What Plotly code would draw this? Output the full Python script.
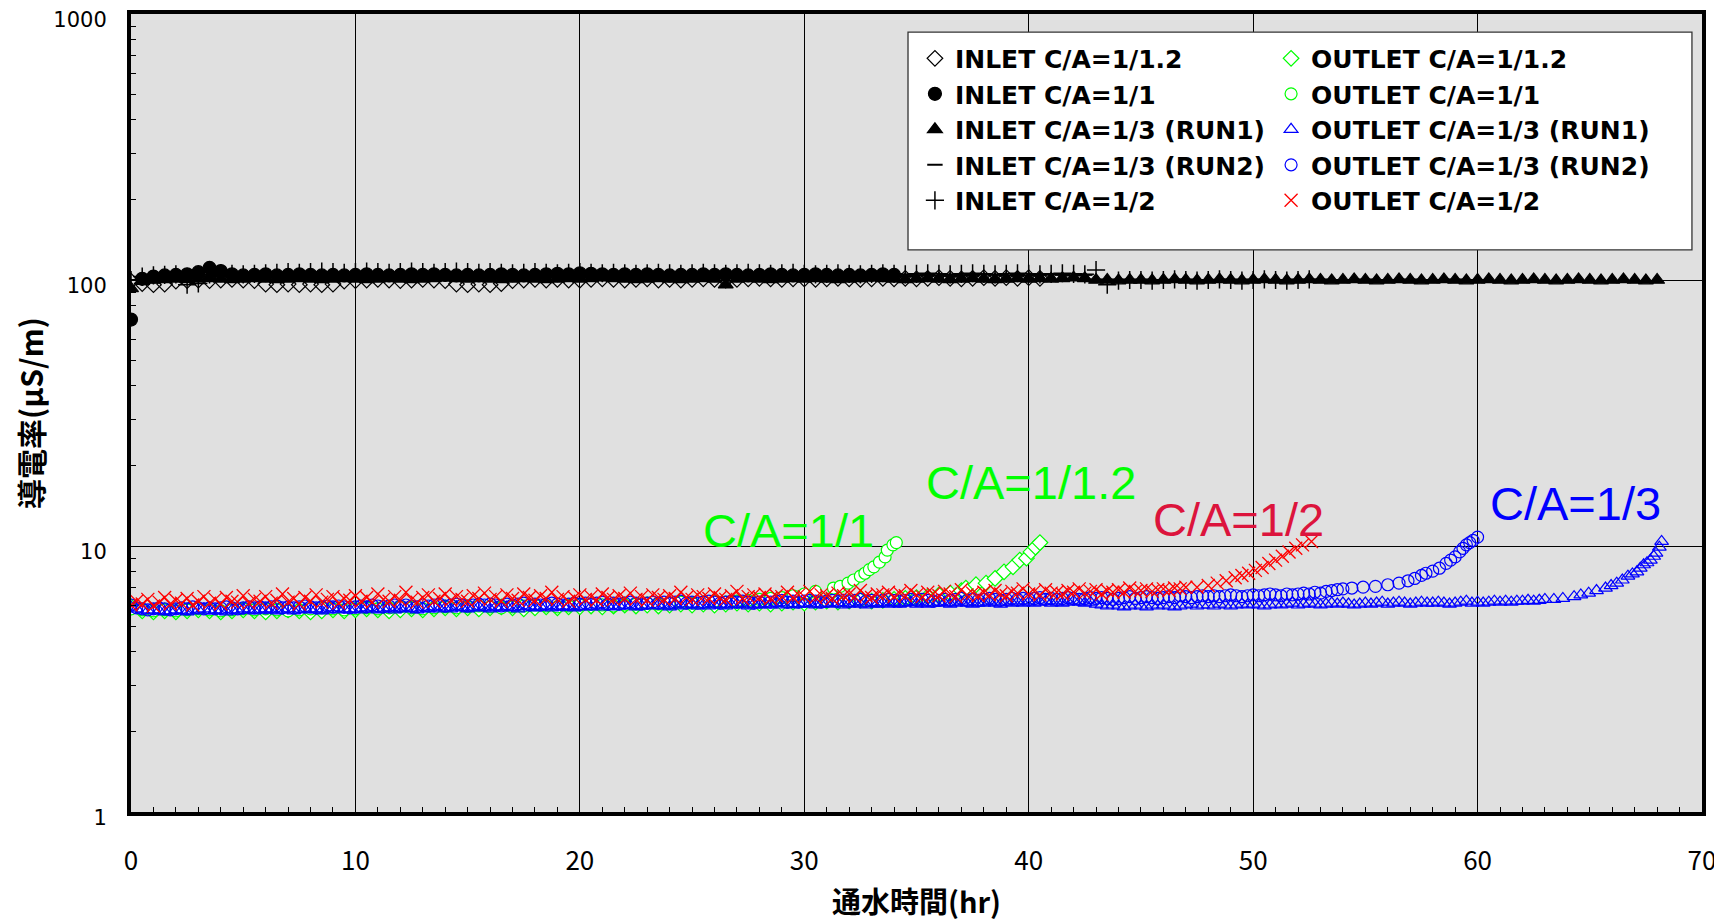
import math
import plotly.graph_objects as go

# ---------------- data ----------------
# sampling times, quarter-hour grid (hr)
HOURS = [0.0, 0.25, 0.5, 0.75, 1.0, 1.25, 1.5, 1.75,
         2.0, 2.25, 2.5, 2.75, 3.0, 3.25, 3.5, 3.75,
         4.0, 4.25, 4.5, 4.75, 5.0, 5.25, 5.5, 5.75,
         6.0, 6.25, 6.5, 6.75, 7.0, 7.25, 7.5, 7.75,
         8.0, 8.25, 8.5, 8.75, 9.0, 9.25, 9.5, 9.75,
         10.0, 10.25, 10.5, 10.75, 11.0, 11.25, 11.5, 11.75,
         12.0, 12.25, 12.5, 12.75, 13.0, 13.25, 13.5, 13.75,
         14.0, 14.25, 14.5, 14.75, 15.0, 15.25, 15.5, 15.75,
         16.0, 16.25, 16.5, 16.75, 17.0, 17.25, 17.5, 17.75,
         18.0, 18.25, 18.5, 18.75, 19.0, 19.25, 19.5, 19.75,
         20.0, 20.25, 20.5, 20.75, 21.0, 21.25, 21.5, 21.75,
         22.0, 22.25, 22.5, 22.75, 23.0, 23.25, 23.5, 23.75,
         24.0, 24.25, 24.5, 24.75, 25.0, 25.25, 25.5, 25.75,
         26.0, 26.25, 26.5, 26.75, 27.0, 27.25, 27.5, 27.75,
         28.0, 28.25, 28.5, 28.75, 29.0, 29.25, 29.5, 29.75,
         30.0, 30.25, 30.5, 30.75, 31.0, 31.25, 31.5, 31.75,
         32.0, 32.25, 32.5, 32.75, 33.0, 33.25, 33.5, 33.75,
         34.0, 34.25, 34.5, 34.75, 35.0, 35.25, 35.5, 35.75,
         36.0, 36.25, 36.5, 36.75, 37.0, 37.25, 37.5, 37.75,
         38.0, 38.25, 38.5, 38.75, 39.0, 39.25, 39.5, 39.75,
         40.0, 40.25, 40.5, 40.75, 41.0, 41.25, 41.5, 41.75,
         42.0, 42.25, 42.5, 42.75, 43.0, 43.25, 43.5, 43.75,
         44.0, 44.25, 44.5, 44.75, 45.0, 45.25, 45.5, 45.75,
         46.0, 46.25, 46.5, 46.75, 47.0, 47.25, 47.5, 47.75,
         48.0, 48.25, 48.5, 48.75, 49.0, 49.25, 49.5, 49.75,
         50.0, 50.25, 50.5, 50.75, 51.0, 51.25, 51.5, 51.75,
         52.0, 52.25, 52.5, 52.75, 53.0, 53.25, 53.5, 53.75,
         54.0, 54.25, 54.5, 54.75, 55.0, 55.25, 55.5, 55.75,
         56.0, 56.25, 56.5, 56.75, 57.0, 57.25, 57.5, 57.75,
         58.0, 58.25, 58.5, 58.75, 59.0, 59.25, 59.5, 59.75,
         60.0, 60.25, 60.5, 60.75, 61.0, 61.25, 61.5, 61.75,
         62.0, 62.25, 62.5, 62.75, 63.0, 63.25, 63.5, 63.75,
         64.0, 64.25, 64.5, 64.75, 65.0, 65.25, 65.5, 65.75,
         66.0, 66.25, 66.5, 66.75, 67.0, 67.25, 67.5, 67.75,
         68.0]
HALF_HOURS = HOURS[::2]

# INLET series (black), half-hour readings
inlet_12_y = [99, 97, 96, 96.5, 99, 99.5, 100, 99.5, 100, 100.5,
              100, 99.5, 96.5, 96, 96.5, 96, 96.5, 96, 96.5, 99,
              99.5, 100, 100.5, 100, 99.5, 100, 100.5, 100, 99.5, 96.5,
              96, 96.5, 96, 97, 99.5, 100, 100.5, 100, 100.5, 100,
              100, 100.5, 101, 100.5, 100, 100.5, 101, 100, 100.5, 100,
              100.5, 101, 100.5, 100, 100.5, 101, 101.5, 101, 100.5, 101,
              101, 100.5, 101, 101.5, 101, 100.5, 101, 101.5, 101, 101.5,
              101, 101.5, 102, 101.5, 101, 101.5, 102, 101.5, 102, 101.5,
              102, 101.5]
inlet_11_y = [71, 101, 103, 104, 104.5, 105, 107, 111, 108, 105,
              104, 104.5, 105, 104, 104.5, 105, 104.5, 104, 104.5, 104,
              104.5, 105, 104.5, 104, 104.5, 105, 104.5, 105, 104.5, 104,
              104.5, 104, 104.5, 105, 104.5, 104, 104.5, 105, 105.5, 105,
              106, 105.5, 105, 104.5, 105, 104.5, 105, 104.5, 104, 104.5,
              104.5, 105, 104.5, 105, 104.5, 104, 104.5, 105, 104.5, 104,
              104.5, 105, 104.5, 104, 104.5, 104, 104.5, 105, 104.5]
inlet_run1_y = [93, 99, 100, 100.5, 101, 100.5, 101, 101.5, 101, 100.5,
                101, 101.5, 101, 100.5, 101, 101.5, 101, 100.5, 101, 101.5,
                101, 100.5, 101, 101.5, 101, 100.5, 101, 101.5, 102, 101.5,
                101, 101.5, 101, 100.5, 101, 101.5, 101, 100.5, 101, 101.5,
                101, 101.5, 102, 101.5, 101, 100.5, 101, 101.5, 101, 100.5,
                101, 101.5, 101, 96, 101, 101.5, 101, 100.5, 101, 101.5,
                101, 101.5, 101, 100.5, 101, 101.5, 102, 101.5, 101, 100.5,
                101, 101.5, 101, 100.5, 101, 101.5, 101, 100.5, 101, 101.5,
                101, 101.5, 101, 101.5, 102, 101.5, 100, 100, 99.5, 100,
                100, 99.5, 100, 100.5, 100, 99.5, 100, 100.5, 100, 99.5,
                100, 100.5, 100, 99.5, 100, 100.5, 100, 99.5, 100, 100.5,
                100, 99.5, 100, 100.5, 100, 99.5, 100, 100.5, 100, 99.5,
                100, 100.5, 100, 99.5, 100, 100.5, 100, 99.5, 100, 100.5,
                100, 99.5, 100, 100.5, 100, 99.5, 100]
inlet_run2_y = [100, 102, 103, 103.5, 103, 102.5, 103, 103.5, 104, 103.5,
                103, 103.5, 103, 102.5, 103, 103.5, 103, 102.5, 103, 103.5,
                104, 103.5, 103, 103.5, 104, 103.5, 103, 102.5, 103, 103.5,
                103, 102.5, 103, 103.5, 104, 103.5, 103, 103.5, 103, 102.5,
                103, 103.5, 104, 103.5, 103, 102.5, 103, 103.5, 103, 103.5,
                104, 103.5, 103, 102.5, 103, 103.5, 104, 103.5, 103, 103.5,
                103, 103.5, 104, 104.5, 104, 103.5, 104, 104.5, 104, 103.5,
                104, 104.5, 104, 103.5, 104, 104.5, 105, 104.5, 104, 104.5,
                104, 104.5, 105, 104.5, 104, 104.5, 100.5, 100, 100.5, 100,
                100.5, 100, 99.5, 100, 100.5, 100, 99.5, 100, 100.5, 100,
                100.5, 100, 99.5, 100, 100.5, 100, 100.5, 100, 99.5, 100,
                100.5, 100, 99.5, 100, 100.5, 100, 99.5, 100, 100.5, 100,
                100]
inlet_2_y = [100, 103, 104, 104.5, 105, 96, 97, 105, 106, 105.5,
             105, 105.5, 106, 106.5, 107, 106.5, 107, 107.5, 107, 106.5,
             107, 107.5, 107, 106.5, 107, 107.5, 107, 106.5, 107, 107.5,
             107, 106.5, 107, 106.5, 106, 106.5, 107, 106.5, 106, 106.5,
             107, 106.5, 106, 106.5, 106, 105.5, 106, 106.5, 106, 105.5,
             106, 106.5, 106, 105.5, 106, 106.5, 106, 105.5, 106, 106.5,
             105.5, 105, 105.5, 106, 105.5, 105, 105.5, 106, 105.5, 105,
             105.5, 106, 105.5, 105, 105.5, 106, 105.5, 105, 105.5, 106,
             105.5, 105, 105.5, 106, 105.5, 105, 109, 96, 99.5, 100,
             100, 99.5, 100, 100.5, 100, 99.5, 100, 100.5, 100, 99.5,
             100, 100.5, 100, 99.5, 100, 100.5]

# OUTLET series: flat part + breakthrough tail
# green series: half-hour readings
outlet_12_y = [5.9, 5.7, 5.65, 5.7, 5.65, 5.7, 5.75, 5.7, 5.65, 5.7,
               5.75, 5.7, 5.65, 5.7, 5.75, 5.7, 5.65, 5.7, 5.75, 5.7,
               5.75, 5.8, 5.75, 5.7, 5.75, 5.8, 5.75, 5.8, 5.85, 5.8,
               5.85, 5.8, 5.85, 5.9, 5.85, 5.8, 5.85, 5.9, 5.85, 5.9,
               5.9, 5.95, 5.9, 5.95, 6.0, 5.95, 6.0, 5.95, 6.0, 6.05,
               6.0, 6.05, 6.0, 6.05, 6.1, 6.05, 6.1, 6.05, 6.1, 6.15,
               6.1, 6.15, 6.2, 6.15, 6.2, 6.25, 6.2, 6.25, 6.3, 6.35,
               6.4, 6.45, 6.55, 6.65, 6.8]
outlet_12_tail_x = [37.2, 37.65, 38.1, 38.5, 38.9, 39.3, 39.6, 39.9, 40.1, 40.3, 40.5]
outlet_12_tail_y = [6.95, 7.15, 7.25, 7.55, 8.0, 8.35, 8.85, 9.0, 9.5, 9.9, 10.3]

outlet_11_y = [5.8, 5.75, 5.7, 5.75, 5.7, 5.75, 5.8, 5.75, 5.7, 5.75,
               5.8, 5.75, 5.8, 5.75, 5.7, 5.75, 5.8, 5.85, 5.8, 5.75,
               5.8, 5.85, 5.8, 5.85, 5.9, 5.85, 5.8, 5.85, 5.9, 5.85,
               5.9, 5.95, 5.9, 5.85, 5.9, 5.95, 6.0, 5.95, 5.9, 5.95,
               6.0, 6.05, 6.0, 5.95, 6.0, 6.05, 6.1, 6.05, 6.1, 6.15,
               6.1, 6.15, 6.2, 6.15, 6.2, 6.25, 6.3, 6.35, 6.4, 6.5,
               6.6]
outlet_11_tail_x = [30.5, 31.3, 31.6, 31.95, 32.2, 32.5, 32.7, 32.9, 33.1, 33.35, 33.6, 33.7, 33.95, 34.1]
outlet_11_tail_y = [6.75, 6.95, 7.05, 7.25, 7.45, 7.7, 7.9, 8.15, 8.35, 8.7, 9.1, 9.65, 10.1, 10.3]

# blue / red series: quarter-hour readings
outlet_run1_y = [5.9, 5.8, 5.75, 5.7, 5.75, 5.7, 5.65, 5.7,
                 5.75, 5.7, 5.65, 5.7, 5.75, 5.8, 5.7, 5.75,
                 5.7, 5.65, 5.75, 5.7, 5.8, 5.75, 5.7, 5.75,
                 5.8, 5.75, 5.7, 5.75, 5.8, 5.7, 5.75, 5.8,
                 5.75, 5.8, 5.7, 5.75, 5.85, 5.75, 5.8, 5.75,
                 5.8, 5.75, 5.85, 5.8, 5.75, 5.8, 5.85, 5.75,
                 5.8, 5.85, 5.8, 5.75, 5.85, 5.8, 5.9, 5.8,
                 5.85, 5.8, 5.9, 5.85, 5.8, 5.85, 5.9, 5.85,
                 5.8, 5.9, 5.85, 5.9, 5.85, 5.8, 5.9, 5.95,
                 5.85, 5.9, 5.95, 5.85, 5.9, 5.95, 5.9, 5.85,
                 5.9, 5.95, 5.9, 6.0, 5.9, 5.95, 5.9, 5.95,
                 6.0, 5.95, 5.9, 5.95, 6.0, 5.95, 6.0, 5.95,
                 5.9, 6.0, 5.95, 6.0, 6.05, 5.95, 6.0, 5.95,
                 6.0, 6.05, 5.95, 6.0, 6.05, 6.0, 5.95, 6.05,
                 6.0, 6.05, 6.0, 6.1, 6.0, 6.05, 6.0, 6.05,
                 6.1, 6.05, 6.0, 6.05, 6.1, 6.05, 6.1, 6.0,
                 6.05, 6.1, 6.05, 6.0, 6.1, 6.05, 6.1, 6.05,
                 6.1, 6.05, 6.1, 6.15, 6.05, 6.1, 6.05, 6.1,
                 6.15, 6.1, 6.05, 6.1, 6.15, 6.1, 6.05, 6.1,
                 6.1, 6.15, 6.1, 6.05, 6.15, 6.1, 6.15, 6.1,
                 6.15, 6.1, 6.15, 6.2, 6.1, 6.15, 6.1, 6.15,
                 6.2, 6.15, 6.1, 6.15, 6.05, 6.0, 5.95, 6.0,
                 5.95, 5.9, 5.95, 6.0, 5.95, 5.9, 6.0, 5.95,
                 6.0, 5.95, 5.9, 5.95, 6.0, 6.05, 5.95, 6.0,
                 6.0, 5.95, 6.05, 6.0, 5.95, 6.0, 6.05, 6.0,
                 6.05, 6.0, 5.95, 6.0, 6.05, 6.0, 6.05, 6.1,
                 6.0, 6.05, 6.1, 6.05, 6.0, 6.05, 6.1, 6.05,
                 6.1, 6.05, 6.0, 6.05, 6.1, 6.05, 6.1, 6.15,
                 6.05, 6.1, 6.15, 6.1, 6.05, 6.1, 6.15, 6.1,
                 6.1, 6.15, 6.1, 6.05, 6.1, 6.15, 6.2, 6.1,
                 6.15, 6.1, 6.15, 6.2, 6.15, 6.2, 6.15, 6.2,
                 6.2, 6.25, 6.2, 6.25, 6.3]
outlet_run1_tail_x = [63.4, 63.8, 64.3, 64.6, 64.95, 65.3, 65.7, 65.95, 66.2, 66.45, 66.7,
                      66.9, 67.1, 67.25, 67.4, 67.55, 67.7, 67.85, 67.95, 68.1, 68.2]
outlet_run1_tail_y = [6.3, 6.35, 6.45, 6.55, 6.65, 6.8, 6.95, 7.1, 7.25, 7.45, 7.7,
                      7.85, 8.0, 8.25, 8.5, 8.65, 8.85, 9.15, 9.4, 9.9, 10.4]

outlet_run2_y = [6.0, 5.85, 5.8, 5.75, 5.8, 5.85, 5.8, 5.75,
                 5.8, 5.85, 5.8, 5.9, 5.85, 5.8, 5.85, 5.8,
                 5.85, 5.9, 5.85, 5.8, 5.85, 5.9, 5.85, 5.9,
                 5.85, 5.9, 5.95, 5.85, 5.9, 5.85, 5.9, 5.95,
                 5.9, 5.85, 5.9, 5.95, 5.9, 5.95, 5.9, 5.85,
                 5.9, 5.95, 5.9, 6.0, 5.95, 5.9, 5.95, 6.0,
                 5.95, 6.0, 5.95, 5.9, 6.0, 5.95, 6.0, 6.05,
                 5.95, 6.0, 6.05, 6.0, 5.95, 6.0, 6.05, 6.0,
                 6.05, 6.0, 5.95, 6.05, 6.0, 6.05, 6.1, 6.0,
                 6.05, 6.0, 6.05, 6.1, 6.05, 6.0, 6.05, 6.1,
                 6.05, 6.1, 6.05, 6.1, 6.15, 6.05, 6.1, 6.05,
                 6.1, 6.15, 6.1, 6.05, 6.1, 6.15, 6.1, 6.15,
                 6.1, 6.15, 6.2, 6.1, 6.15, 6.1, 6.15, 6.2,
                 6.15, 6.1, 6.15, 6.2, 6.15, 6.2, 6.15, 6.1,
                 6.15, 6.2, 6.15, 6.2, 6.25, 6.15, 6.2, 6.15,
                 6.2, 6.25, 6.2, 6.15, 6.2, 6.25, 6.2, 6.25,
                 6.2, 6.25, 6.3, 6.2, 6.25, 6.2, 6.25, 6.3,
                 6.25, 6.2, 6.25, 6.3, 6.25, 6.3, 6.25, 6.2,
                 6.25, 6.3, 6.25, 6.3, 6.35, 6.25, 6.3, 6.25,
                 6.3, 6.35, 6.3, 6.25, 6.3, 6.35, 6.3, 6.35,
                 6.3, 6.35, 6.4, 6.3, 6.35, 6.3, 6.35, 6.4,
                 6.35, 6.3, 6.35, 6.4, 6.35, 6.4, 6.35, 6.3,
                 6.35, 6.4, 6.45, 6.35, 6.4, 6.45, 6.4, 6.35,
                 6.4, 6.45, 6.4, 6.5, 6.45, 6.4, 6.45, 6.5,
                 6.45, 6.5, 6.45, 6.5, 6.55, 6.5, 6.45, 6.5,
                 6.55, 6.5, 6.55, 6.6, 6.55, 6.5, 6.6, 6.55,
                 6.6, 6.65, 6.6, 6.7, 6.65, 6.75, 6.8, 6.85,
                 6.9]
outlet_run2_tail_x = [54.4, 54.9, 55.45, 56.0, 56.5, 56.9, 57.2, 57.5, 57.7, 58.0,
                      58.3, 58.6, 58.8, 59.0, 59.2, 59.35, 59.5, 59.65, 59.8, 60.0]
outlet_run2_tail_y = [6.95, 7.0, 7.05, 7.15, 7.25, 7.4, 7.55, 7.75, 7.9, 8.05,
                      8.25, 8.6, 8.85, 9.1, 9.5, 9.8, 10.1, 10.3, 10.5, 10.8]

outlet_2_y = [6.0, 6.2, 6.05, 6.3, 5.95, 6.15, 6.4, 6.05,
              6.25, 6.1, 6.35, 6.0, 6.2, 6.45, 6.1, 6.3,
              6.05, 6.4, 6.2, 6.15, 6.5, 6.1, 6.3, 6.2,
              6.45, 6.1, 6.25, 6.6, 6.15, 6.35, 6.05, 6.4,
              6.2, 6.55, 6.15, 6.3, 6.45, 6.1, 6.35, 6.25,
              6.5, 6.2, 6.4, 6.15, 6.6, 6.3, 6.2, 6.45,
              6.25, 6.7, 6.3, 6.15, 6.4, 6.55, 6.2, 6.35,
              6.6, 6.25, 6.45, 6.3, 6.2, 6.5, 6.35, 6.65,
              6.3, 6.45, 6.2, 6.55, 6.35, 6.25, 6.6, 6.4,
              6.25, 6.5, 6.35, 6.7, 6.3, 6.45, 6.2, 6.4,
              6.55, 6.3, 6.45, 6.25, 6.6, 6.4, 6.3, 6.5,
              6.35, 6.65, 6.3, 6.45, 6.25, 6.55, 6.4, 6.3,
              6.5, 6.35, 6.7, 6.4, 6.3, 6.55, 6.45, 6.35,
              6.6, 6.4, 6.3, 6.5, 6.75, 6.35, 6.45, 6.55,
              6.4, 6.6, 6.35, 6.5, 6.45, 6.7, 6.4, 6.55,
              6.45, 6.75, 6.4, 6.55, 6.5, 6.35, 6.65, 6.5,
              6.6, 6.45, 6.8, 6.5, 6.4, 6.6, 6.55, 6.7,
              6.45, 6.65, 6.5, 6.8, 6.55, 6.45, 6.7, 6.6,
              6.5, 6.75, 6.6, 6.45, 6.85, 6.55, 6.65, 6.5,
              6.7, 6.55, 6.8, 6.6, 6.5, 6.75, 6.65, 6.9,
              6.6, 6.75, 6.55, 6.85, 6.65, 6.7, 6.6, 6.8,
              6.7, 6.9, 6.65, 6.75, 6.85, 6.6, 6.8, 6.7,
              6.85, 6.7, 6.95, 6.75, 6.8, 6.9, 6.75, 6.85,
              6.9, 6.8, 6.95, 6.9, 7.0]
outlet_2_tail_x = [47.5, 48.0, 48.4, 48.8, 49.2, 49.5, 49.8, 50.1, 50.4, 50.7,
                   51.0, 51.3, 51.6, 51.9, 52.2, 52.6]
outlet_2_tail_y = [7.0, 7.1, 7.25, 7.4, 7.6, 7.75, 7.9, 8.1, 8.3, 8.6,
                   8.85, 9.15, 9.5, 9.8, 10.1, 10.4]

X_TICKS = [0, 10, 20, 30, 40, 50, 60, 70]
Y_TICKS = [1, 10, 100, 1000]
Y_TICK_TEXT = ["1", "10", "100", "1000"]

LABELS = [("C/A=1/1", 29.28, 11.4, "#00FF00"),
          ("C/A=1/1.2", 40.1, 17.3, "#00FF00"),
          ("C/A=1/2", 49.33, 12.6, "#DC143C"),
          ("C/A=1/3", 64.35, 14.4, "#0000FF")]

# ---------------- figure ----------------
GREEN = "#00FF00"
BLUE = "#0000FF"
RED = "#FF0000"

fig = go.Figure()

def add(name, x, y, legend, symbol, color, size, fill=None, lw=1.2):
    fig.add_trace(go.Scatter(
        x=x, y=y, name=name, mode="markers", legend=legend,
        marker=dict(symbol=symbol, size=size,
                    color=fill if fill is not None else color,
                    line=dict(color=color, width=lw))))

add("INLET C/A=1/1.2", HALF_HOURS[:len(inlet_12_y)], inlet_12_y, "legend", "diamond-open", "black", 12)
add("INLET C/A=1/1", HALF_HOURS[:len(inlet_11_y)], inlet_11_y, "legend", "circle", "black", 13)
add("INLET C/A=1/3 (RUN1)", HALF_HOURS[:len(inlet_run1_y)], inlet_run1_y, "legend", "triangle-up", "black", 13)
add("INLET C/A=1/3 (RUN2)", HALF_HOURS[:len(inlet_run2_y)], inlet_run2_y, "legend", "line-ew", "black", 11, lw=2)
add("INLET C/A=1/2", HALF_HOURS[:len(inlet_2_y)], inlet_2_y, "legend", "cross-thin", "black", 13, lw=1.5)

add("OUTLET C/A=1/1.2", HALF_HOURS[:len(outlet_12_y)] + outlet_12_tail_x, outlet_12_y + outlet_12_tail_y,
    "legend2", "diamond", GREEN, 12, fill="white")
add("OUTLET C/A=1/1", HALF_HOURS[:len(outlet_11_y)] + outlet_11_tail_x, outlet_11_y + outlet_11_tail_y,
    "legend2", "circle", GREEN, 12, fill="white")
add("OUTLET C/A=1/3 (RUN1)", HOURS[:len(outlet_run1_y)] + outlet_run1_tail_x, outlet_run1_y + outlet_run1_tail_y,
    "legend2", "triangle-up-open", BLUE, 12, lw=1.2)
add("OUTLET C/A=1/3 (RUN2)", HOURS[:len(outlet_run2_y)] + outlet_run2_tail_x, outlet_run2_y + outlet_run2_tail_y,
    "legend2", "circle-open", BLUE, 12, lw=1.2)
add("OUTLET C/A=1/2", HOURS[:len(outlet_2_y)] + outlet_2_tail_x, outlet_2_y + outlet_2_tail_y,
    "legend2", "x-thin", RED, 13, lw=1.3)

annotations = []
for text, xv, yv, col in LABELS:
    annotations.append(dict(x=xv, y=math.log10(yv), xref="x", yref="y", text=text,
                            showarrow=False, xanchor="center", yanchor="middle",
                            font=dict(family="Liberation Sans, Arial", size=47, color=col)))

legend_font = dict(family="DejaVu Sans", size=25, color="black", weight="bold")

# The page body has an 8 px margin, so the figure is 8 px smaller than the window.
fig.update_layout(
    width=1714, height=913,
    margin=dict(l=123, r=20, t=6, b=109, autoexpand=False),
    paper_bgcolor="white",
    plot_bgcolor="rgb(224,224,224)",
    showlegend=True,
    legend=dict(x=0.499, y=0.973, xanchor="left", yanchor="top",
                bgcolor="rgba(0,0,0,0)", borderwidth=0, font=legend_font,
                itemsizing="trace", tracegroupgap=0),
    legend2=dict(x=0.7257, y=0.973, xanchor="left", yanchor="top",
                 bgcolor="rgba(0,0,0,0)", borderwidth=0, font=legend_font,
                 itemsizing="trace", tracegroupgap=0),
    shapes=[dict(type="rect", xref="paper", yref="paper",
                 x0=0.4946, x1=0.9936, y0=0.7043, y1=0.9774,
                 fillcolor="white", line=dict(color="#333333", width=1.3), layer="above")],
    annotations=annotations,
    xaxis=dict(
        range=[0, 70], tickvals=X_TICKS, ticks="inside", ticklen=5, tickcolor="black",
        showline=True, linewidth=4, linecolor="black", mirror=True,
        showgrid=True, gridcolor="black", gridwidth=1, zeroline=False,
        minor=dict(dtick=1, ticks="inside", ticklen=5, tickcolor="black", showgrid=False),
        tickfont=dict(family="Noto Sans CJK JP", size=26, color="black"),
        ticklabelstandoff=23, automargin=False,
        title=dict(text="<b>通水時間(hr)</b>", standoff=22,
                   font=dict(family="Noto Sans CJK JP", size=29, color="black")),
    ),
    yaxis=dict(
        type="log", range=[0, 3], tickvals=Y_TICKS, ticktext=Y_TICK_TEXT,
        ticks="inside", ticklen=5, tickcolor="black",
        showline=True, linewidth=4, linecolor="black", mirror=True,
        showgrid=True, gridcolor="black", gridwidth=1, zeroline=False,
        minor=dict(dtick="D1", ticks="inside", ticklen=5, tickcolor="black", showgrid=False),
        tickfont=dict(family="DejaVu Sans", size=21, color="black"),
        ticklabelstandoff=16, ticklabelshift=6, automargin=False,
        title=dict(text="<b>導電率(μS/m)</b>", standoff=28,
                   font=dict(family="Noto Sans CJK JP", size=30, color="black")),
    ),
)

fig.write_html("out.html")
